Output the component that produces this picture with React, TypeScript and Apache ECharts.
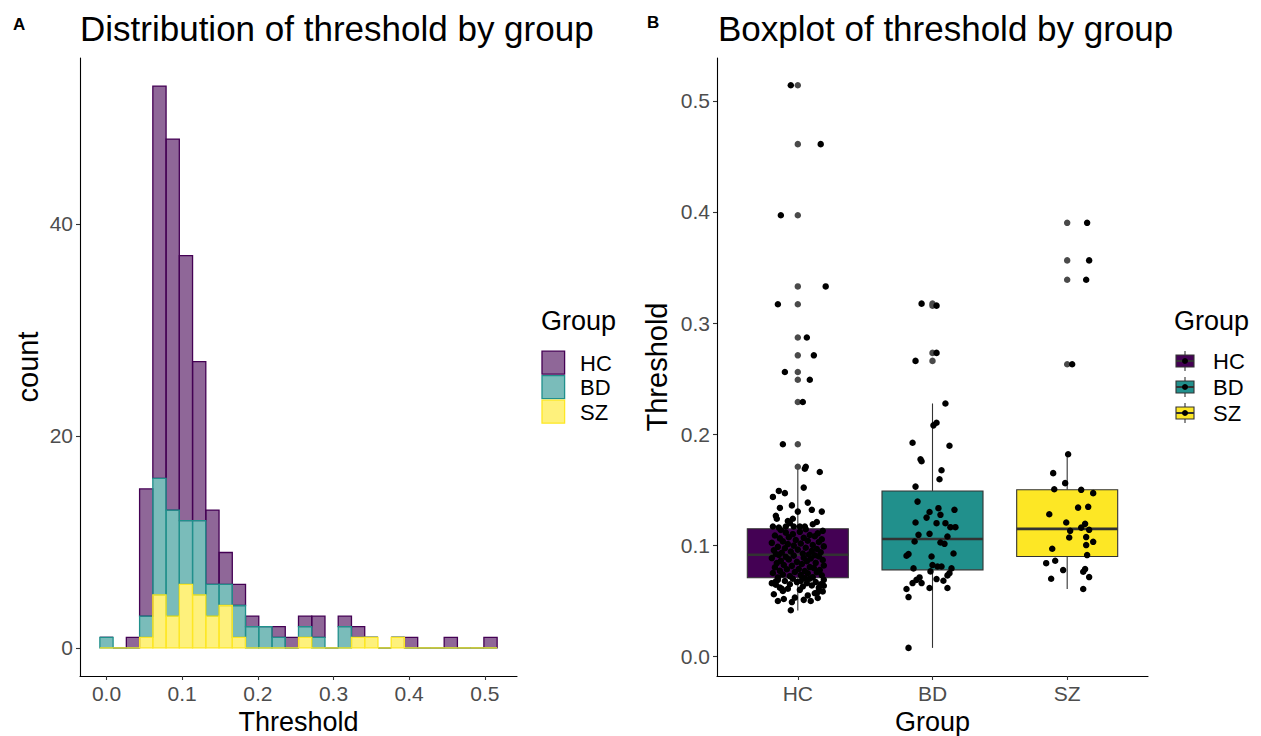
import React, { useEffect, useRef } from "react";
import * as echarts from "echarts";

const FONT = "'Liberation Sans', Arial, sans-serif";

const groups = ["HC", "BD", "SZ"];
const groupColors = ["#440154", "#21908C", "#FDE725"];
const groupFills = ["rgba(68,1,84,0.6)", "rgba(33,144,140,0.6)", "rgba(253,231,37,0.6)"];

// Histogram: 30 bins, width 0.0175, first bin centred on 0.0
const binWidth = 0.0175;
const firstBinCenter = 0.0;
const hcCounts = [0, 0, 1, 12, 37, 35, 25, 15, 7, 3, 2, 1, 0, 1, 1, 1, 2, 0, 1, 1, 0, 0, 0, 1, 0, 0, 1, 0, 0, 1];
const bdCounts = [1, 0, 0, 2, 11, 10, 6, 7, 3, 2, 3, 2, 2, 1, 0, 1, 1, 0, 2, 0, 0, 0, 0, 0, 0, 0, 0, 0, 0, 0];
const szCounts = [0, 0, 0, 1, 5, 3, 6, 5, 3, 4, 1, 0, 0, 0, 0, 1, 0, 0, 0, 1, 1, 0, 1, 0, 0, 0, 0, 0, 0, 0];

const histXTicks = [0, 0.1, 0.2, 0.3, 0.4, 0.5];
const histYTicks = [0, 20, 40];
const boxYTicks = [0, 0.1, 0.2, 0.3, 0.4, 0.5];

// Box stats: [lower whisker, Q1, median, Q3, upper whisker]
const hcBox = [0.0415, 0.0709, 0.0916, 0.115, 0.1706];
const bdBox = [0.0078, 0.078, 0.1057, 0.149, 0.2277];
const szBox = [0.0608, 0.09, 0.1149, 0.15, 0.182];

// Individual thresholds and their horizontal jitter (fraction of category spacing)
const hcValues = [
  0.0416, 0.049, 0.05, 0.05, 0.0518, 0.051, 0.0527, 0.0586, 0.059, 0.0637, 0.0646, 0.0676, 0.053, 0.055, 0.056, 0.057,
  0.06, 0.061, 0.062, 0.062, 0.063, 0.064, 0.065, 0.065, 0.066, 0.066, 0.067, 0.067, 0.068, 0.068, 0.069, 0.069, 0.07,
  0.07, 0.0705, 0.061, 0.058,
  0.0712, 0.0714, 0.0723, 0.0731, 0.0733, 0.0738, 0.0749, 0.0752, 0.0758, 0.0761, 0.0769, 0.0771, 0.0778, 0.0785,
  0.0787, 0.0796, 0.0802, 0.0805, 0.0816, 0.0819, 0.0824, 0.0833, 0.0841, 0.0843, 0.0852, 0.0858, 0.0861, 0.0869,
  0.0874, 0.0882, 0.0886, 0.0889, 0.0897, 0.0901, 0.0908, 0.0911, 0.0915,
  0.0918, 0.0923, 0.0927, 0.0934, 0.0938, 0.0945, 0.0951, 0.0956, 0.0962, 0.0968, 0.0974, 0.0979, 0.0987, 0.0991,
  0.0998, 0.1004, 0.1012, 0.1017, 0.1023, 0.1031, 0.1036, 0.1042, 0.1049, 0.1055, 0.1063, 0.1068, 0.1074, 0.1082,
  0.1089, 0.1094, 0.1101, 0.1108, 0.1115, 0.1122, 0.1131, 0.1139, 0.1146,
  0.1708, 0.169, 0.166, 0.152, 0.149, 0.147, 0.1436, 0.136, 0.1337, 0.1385, 0.132, 0.1304, 0.1304, 0.1266, 0.124,
  0.124, 0.122, 0.117, 0.117, 0.117, 0.117, 0.117, 0.119, 0.12, 0.121, 0.116,
  0.514, 0.461, 0.397, 0.333, 0.317, 0.287, 0.271, 0.256, 0.249, 0.229, 0.191,
];
const hcJitter = [
  -0.052, -0.044, -0.148, 0.096, -0.104, 0.044, 0.148, 0.185, -0.111, 0.193, -0.163, -0.163, -0.022, 0.074, -0.178,
  0.126, 0.015, -0.074, 0.156, -0.133, 0.037, 0.104, -0.059, 0.17, -0.193, 0.067, -0.007, 0.133, -0.096, 0.022, 0.193,
  -0.148, 0.089, -0.037, 0.052, -0.119, 0.148,
  -0.148, 0.111, -0.059, 0.178, 0.022, -0.111, 0.074, -0.185, 0.141, -0.022, 0.052, -0.133, 0.163, -0.081, 0.007,
  0.119, -0.17, 0.089, -0.044, 0.193, -0.104, 0.03, -0.156, 0.133, -0.007, 0.067, -0.126, 0.185, -0.067, 0.096,
  -0.193, 0.044, -0.089, 0.156, -0.03, 0.126, -0.141,
  0.081, -0.163, 0.037, -0.119, 0.17, -0.052, 0.104, -0.178, 0.0, 0.141, -0.096, 0.059, -0.148, 0.193, -0.03, 0.111,
  -0.074, 0.022, -0.193, 0.156, -0.111, 0.074, -0.015, 0.178, -0.133, 0.044, -0.067, 0.126, -0.17, 0.089, -0.037,
  0.148, -0.089, 0.015, 0.185, -0.126, 0.059,
  0.059, 0.052, 0.163, 0.044, -0.141, -0.096, -0.185, -0.044, -0.133, 0.074, 0.104, 0.178, 0.0, -0.163, -0.156,
  -0.037, -0.074, -0.185, -0.089, -0.03, 0.015, 0.052, 0.111, -0.059, 0.141, -0.141,
  -0.052, 0.17, -0.126, 0.207, -0.148, 0.067, 0.119, -0.096, 0.089, 0.037, -0.111,
];

const bdValues = [
  0.2277, 0.2103, 0.208, 0.1924, 0.1897, 0.1775, 0.1757, 0.1676, 0.1595, 0.1529,
  0.1394, 0.1335, 0.13, 0.132, 0.1275, 0.1206, 0.12, 0.12, 0.1164, 0.1164, 0.1095, 0.1104, 0.108, 0.1035, 0.1026,
  0.1014, 0.0922, 0.0907, 0.09, 0.0927, 0.0823, 0.081, 0.081, 0.0793, 0.0793, 0.0766, 0.125,
  0.075, 0.073, 0.0712, 0.069, 0.0697, 0.0661, 0.0661, 0.0682, 0.0608, 0.0617, 0.0617, 0.0535, 0.0078,
  0.3175, 0.3157, 0.2732, 0.266,
];
const bdJitter = [
  0.096, 0.03, 0.007, -0.148, 0.126, -0.089, -0.081, 0.067, 0.052, -0.126,
  -0.111, 0.044, -0.022, 0.163, 0.059, -0.126, 0.03, 0.096, 0.133, 0.17, -0.104, -0.022, 0.111, -0.133, 0.059, 0.089,
  -0.178, -0.193, -0.007, 0.156, 0.0, 0.037, 0.067, -0.141, 0.141, -0.015, -0.044,
  0.126, 0.111, -0.096, -0.119, 0.03, -0.148, -0.081, 0.081, -0.193, -0.022, 0.111, -0.178, -0.178,
  -0.081, 0.03, 0.03, -0.126,
];

const szValues = [
  0.182, 0.165, 0.156, 0.1505, 0.15, 0.147, 0.134, 0.1347, 0.128, 0.1206, 0.1194, 0.116, 0.1131, 0.114, 0.1071,
  0.1075, 0.1032, 0.1003, 0.097, 0.0913, 0.084, 0.0862, 0.0778, 0.0787, 0.0763, 0.0715, 0.07, 0.0608,
  0.3902, 0.3564, 0.339, 0.263,
];
const szJitter = [
  0.007, -0.104, -0.015, -0.096, 0.104, 0.193, 0.081, 0.156, -0.133, -0.007, 0.133, 0.104, 0.022, 0.163, 0.015,
  0.141, 0.193, 0.141, -0.111, 0.148, -0.156, -0.089, -0.03, 0.133, 0.119, 0.163, -0.119, 0.119,
  0.148, 0.163, 0.141, 0.037,
];

export default function App() {
  const ref = useRef<HTMLDivElement>(null);

  useEffect(() => {
    document.body.style.margin = "0";
    if (!ref.current) return;
    const chart = echarts.init(ref.current, null, { renderer: "svg" });

    const countsByGroup = [hcCounts, bdCounts, szCounts];
    // stacking: SZ bottom, BD middle, HC top
    const histData = countsByGroup.map((counts, g) =>
      counts.map((c, i) => {
        let base = 0;
        for (let k = g + 1; k < countsByGroup.length; k++) base += countsByGroup[k][i];
        const center = firstBinCenter + i * binWidth;
        return [center - binWidth / 2, center + binWidth / 2, base, base + c];
      })
    );

    const histRenderer = (g: number) => (params: any, api: any) => {
      const x0 = api.value(0), x1 = api.value(1), y0 = api.value(2), y1 = api.value(3);
      const a = api.coord([x0, y1]);
      const b = api.coord([x1, y0]);
      if (y1 - y0 <= 0) {
        return {
          type: "line",
          shape: { x1: a[0], y1: b[1], x2: b[0], y2: b[1] },
          style: { stroke: groupColors[g], lineWidth: 1.3 },
        };
      }
      return {
        type: "rect",
        shape: { x: a[0], y: a[1], width: b[0] - a[0], height: b[1] - a[1] },
        style: { fill: groupFills[g], stroke: groupColors[g], lineWidth: 1.3 },
      };
    };

    const boxes = [hcBox, bdBox, szBox];
    const boxData = boxes.map((b, i) => [i + 1, ...b]);
    const boxRenderer = (params: any, api: any) => {
      const x = api.value(0);
      const half = 0.375;
      const xl = api.coord([x - half, 0])[0];
      const xr = api.coord([x + half, 0])[0];
      const xc = api.coord([x, 0])[0];
      const y = (k: number) => api.coord([x, api.value(k)])[1];
      const lo = y(1), q1 = y(2), med = y(3), q3 = y(4), hi = y(5);
      const stroke = "#333333";
      return {
        type: "group",
        children: [
          { type: "line", shape: { x1: xc, y1: lo, x2: xc, y2: q1 }, style: { stroke, lineWidth: 1.1 } },
          { type: "line", shape: { x1: xc, y1: q3, x2: xc, y2: hi }, style: { stroke, lineWidth: 1.1 } },
          {
            type: "rect",
            shape: { x: xl, y: q3, width: xr - xl, height: q1 - q3 },
            style: { fill: groupColors[params.dataIndex], stroke, lineWidth: 1.1 },
          },
          { type: "line", shape: { x1: xl, y1: med, x2: xr, y2: med }, style: { stroke, lineWidth: 2.6 } },
        ],
      };
    };

    const allValues = [hcValues, bdValues, szValues];
    const allJitter = [hcJitter, bdJitter, szJitter];
    const outlierData: number[][] = [];
    const jitterData: number[][] = [];
    allValues.forEach((vals, g) => {
      const b = boxes[g];
      vals.forEach((v, i) => {
        if (v > b[4] || v < b[0]) outlierData.push([g + 1, v]);
        jitterData.push([g + 1 + allJitter[g][i], v]);
      });
    });

    const axisLine = { show: true, onZero: false, lineStyle: { color: "#000", width: 1.1 } };
    const axisTick = (vals: number[]) => ({
      show: true,
      length: 4,
      lineStyle: { color: "#333", width: 1.1 },
      customValues: vals,
    });
    const labelStyle = { fontSize: 21, color: "#4D4D4D", fontFamily: FONT };
    const nameStyle = { fontSize: 29, color: "#000", fontFamily: FONT };
    const xNameStyle = { fontSize: 27, color: "#000", fontFamily: FONT, lineHeight: 27 };

    // legend graphics
    const legendGraphics: any[] = [];
    legendGraphics.push({
      type: "text",
      left: 541,
      top: 307,
      style: { text: "Group", fontSize: 27, fontFamily: FONT, fill: "#000" },
    });
    const lkY = [350.5, 375, 399.5];
    groups.forEach((g, i) => {
      legendGraphics.push({
        type: "rect",
        shape: { x: 542, y: lkY[i] + 0.7, width: 22.6, height: 23 },
        style: { fill: groupFills[i], stroke: groupColors[i], lineWidth: 1.3 },
      });
      legendGraphics.push({
        type: "text",
        x: 580,
        y: lkY[i] + 12.5,
        style: { text: g, fontSize: 22, fontFamily: FONT, fill: "#000", verticalAlign: "middle" },
      });
    });
    legendGraphics.push({
      type: "text",
      left: 1174,
      top: 307,
      style: { text: "Group", fontSize: 27, fontFamily: FONT, fill: "#000" },
    });
    const rkY = [361, 387, 413];
    groups.forEach((g, i) => {
      const cy = rkY[i];
      legendGraphics.push({
        type: "line",
        shape: { x1: 1185, y1: cy - 10, x2: 1185, y2: cy + 10 },
        style: { stroke: "#333", lineWidth: 1.1 },
      });
      legendGraphics.push({
        type: "rect",
        shape: { x: 1176, y: cy - 6, width: 18, height: 12 },
        style: { fill: groupColors[i], stroke: "#333", lineWidth: 1.1 },
      });
      legendGraphics.push({
        type: "line",
        shape: { x1: 1176, y1: cy, x2: 1194, y2: cy },
        style: { stroke: "#333", lineWidth: 2 },
      });
      legendGraphics.push({
        type: "circle",
        shape: { cx: 1185, cy, r: 3 },
        style: { fill: "#000" },
      });
      legendGraphics.push({
        type: "text",
        x: 1213,
        y: cy,
        style: { text: g, fontSize: 22, fontFamily: FONT, fill: "#000", verticalAlign: "middle" },
      });
    });
    legendGraphics.push({
      type: "text",
      left: 13,
      top: 16,
      style: { text: "A", fontSize: 17, fontWeight: "bold", fontFamily: FONT, fill: "#000" },
    });
    legendGraphics.push({
      type: "text",
      left: 647,
      top: 14,
      style: { text: "B", fontSize: 17, fontWeight: "bold", fontFamily: FONT, fill: "#000" },
    });

    chart.setOption({
      animation: false,
      backgroundColor: "#fff",
      textStyle: { fontFamily: FONT },
      title: [
        {
          text: "Distribution of threshold by group",
          left: 80,
          top: 11,
          padding: 0,
          textStyle: { fontSize: 35, fontWeight: "normal", color: "#000", fontFamily: FONT },
        },
        {
          text: "Boxplot of threshold by group",
          left: 718,
          top: 11,
          padding: 0,
          textStyle: { fontSize: 35, fontWeight: "normal", color: "#000", fontFamily: FONT },
        },
      ],
      grid: [
        { left: 80, top: 58, width: 437, height: 618, containLabel: false, outerBoundsMode: "none" },
        { left: 717, top: 58, width: 431, height: 618, containLabel: false, outerBoundsMode: "none" },
      ],
      xAxis: [
        {
          type: "value",
          gridIndex: 0,
          min: -0.035,
          max: 0.5425,
          axisLine,
          axisTick: axisTick(histXTicks),
          splitLine: { show: false },
          axisLabel: {
            ...labelStyle,
            margin: 7,
            customValues: histXTicks,
            formatter: (v: number) => v.toFixed(1),
          },
          name: "Threshold",
          nameLocation: "middle",
          nameGap: 25,
          nameTextStyle: xNameStyle,
        },
        {
          type: "value",
          gridIndex: 1,
          min: 0.4,
          max: 3.6,
          axisLine,
          axisTick: axisTick([1, 2, 3]),
          splitLine: { show: false },
          axisLabel: {
            ...labelStyle,
            margin: 7,
            customValues: [1, 2, 3],
            formatter: (v: number) => groups[Math.round(v) - 1] ?? "",
          },
          name: "Group",
          nameLocation: "middle",
          nameGap: 25,
          nameTextStyle: xNameStyle,
        },
      ],
      yAxis: [
        {
          type: "value",
          gridIndex: 0,
          min: -2.65,
          max: 55.65,
          axisLine,
          axisTick: axisTick(histYTicks),
          splitLine: { show: false },
          axisLabel: { ...labelStyle, margin: 7, customValues: histYTicks, formatter: (v: number) => String(v) },
          name: "count",
          nameLocation: "middle",
          nameGap: 38,
          nameTextStyle: nameStyle,
        },
        {
          type: "value",
          gridIndex: 1,
          min: -0.0175,
          max: 0.5385,
          axisLine,
          axisTick: axisTick(boxYTicks),
          splitLine: { show: false },
          axisLabel: {
            ...labelStyle,
            margin: 7,
            customValues: boxYTicks,
            formatter: (v: number) => v.toFixed(1),
          },
          name: "Threshold",
          nameLocation: "middle",
          nameGap: 46,
          nameTextStyle: nameStyle,
        },
      ],
      series: [
        ...histData.map((data, g) => ({
          type: "custom",
          name: groups[g],
          xAxisIndex: 0,
          yAxisIndex: 0,
          data,
          clip: false,
          renderItem: histRenderer(g),
        })),
        {
          type: "custom",
          xAxisIndex: 1,
          yAxisIndex: 1,
          data: boxData,
          clip: false,
          renderItem: boxRenderer,
        },
        {
          type: "scatter",
          xAxisIndex: 1,
          yAxisIndex: 1,
          data: outlierData,
          symbolSize: 6.5,
          itemStyle: { color: "#4a4a4a", opacity: 1 },
        },
        {
          type: "scatter",
          xAxisIndex: 1,
          yAxisIndex: 1,
          data: jitterData,
          symbolSize: 6.5,
          itemStyle: { color: "#000", opacity: 1 },
        },
      ],
      graphic: legendGraphics,
    });

    return () => chart.dispose();
  }, []);

  return <div ref={ref} style={{ width: 1261, height: 736 }} />;
}
